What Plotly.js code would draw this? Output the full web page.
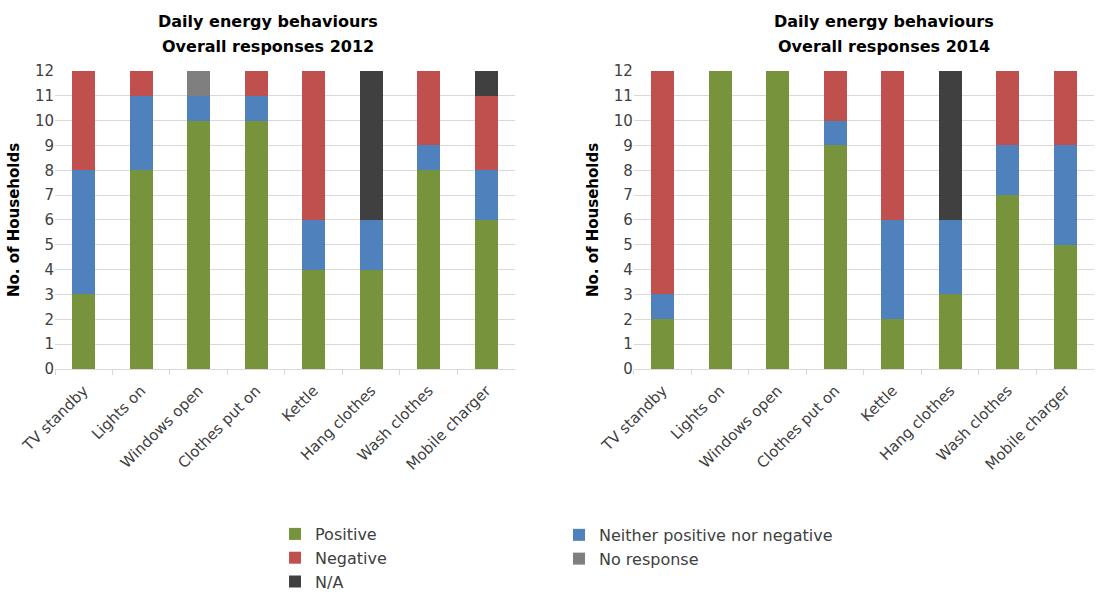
<!DOCTYPE html>
<html>
<head>
<meta charset="utf-8">
<script src="https://cdn.plot.ly/plotly-3.0.1.min.js"></script>
<style>html,body{margin:0;padding:0;background:#fff;}#chart{width:1118px;height:599px;}</style>
</head>
<body>
<div id="chart"></div>
<script>
// Household responses per daily energy behaviour
const categories = ['TV standby', 'Lights on', 'Windows open', 'Clothes put on', 'Kettle', 'Hang clothes', 'Wash clothes', 'Mobile charger'];

const positive2012 = [3, 8, 10, 10, 4, 4, 8, 6];
const neither2012  = [5, 3, 1, 1, 2, 2, 1, 2];
const negative2012 = [4, 1, 0, 1, 6, 0, 3, 3];
const noResp2012   = [0, 0, 1, 0, 0, 0, 0, 0];
const na2012       = [0, 0, 0, 0, 0, 6, 0, 1];

const positive2014 = [2, 12, 12, 9, 2, 3, 7, 5];
const neither2014  = [1, 0, 0, 1, 4, 3, 2, 4];
const negative2014 = [9, 0, 0, 2, 6, 0, 3, 3];
const noResp2014   = [0, 0, 0, 0, 0, 0, 0, 0];
const na2014       = [0, 0, 0, 0, 0, 6, 0, 0];

const yTicks = [0, 1, 2, 3, 4, 5, 6, 7, 8, 9, 10, 11, 12];

const titleLine1 = 'Daily energy behaviours';
const titleLine2 = ['Overall responses 2012', 'Overall responses 2014'];

const FONT = 'DejaVu Sans, sans-serif';

const seriesDefs = [
  {name: 'Positive', color: '#77933c', legend: 'legend', d12: positive2012, d14: positive2014},
  {name: 'Neither positive nor negative', color: '#4f81bd', legend: 'legend2', d12: neither2012, d14: neither2014},
  {name: 'Negative', color: '#c0504d', legend: 'legend', d12: negative2012, d14: negative2014},
  {name: 'No response', color: '#7f7f7f', legend: 'legend2', d12: noResp2012, d14: noResp2014},
  {name: 'N/A', color: '#404040', legend: 'legend', d12: na2012, d14: na2014}
];

const traces = [];
seriesDefs.forEach(s => {
  traces.push({
    type: 'bar', x: categories, y: s.d12, name: s.name,
    marker: {color: s.color, line: {width: 0}},
    xaxis: 'x', yaxis: 'y', legend: s.legend,
    hoverinfo: 'x+y+name'
  });
  traces.push({
    type: 'bar', x: categories, y: s.d14, name: s.name,
    marker: {color: s.color, line: {width: 0}},
    xaxis: 'x2', yaxis: 'y2', showlegend: false,
    hoverinfo: 'x+y+name'
  });
});

const tickFont = {family: FONT, size: 15, color: '#404040'};

function xAxis(domain, anchor) {
  return {
    domain: domain, anchor: anchor, type: 'category',
    tickangle: -45, tickfont: tickFont, ticklabelstandoff: 6,
    showline: true, linecolor: '#d9d9d9', linewidth: 1,
    ticks: 'outside', tickson: 'boundaries', ticklen: 5, tickcolor: '#d9d9d9',
    showgrid: false, zeroline: false, fixedrange: true
  };
}
function yAxis(anchor) {
  return {
    domain: [0.384, 0.8815], anchor: anchor,
    range: [0, 12], tickvals: yTicks, ticktext: yTicks.map(String),
    tickfont: tickFont, showgrid: true, gridcolor: '#d9d9d9', gridwidth: 1,
    zeroline: false, showline: false, ticks: '', fixedrange: true,
    title: {text: 'No. of Households', font: {family: FONT, size: 15, color: '#000', weight: 'bold'}, standoff: 11}
  };
}

const titleFont = {family: FONT, size: 16, color: '#000', weight: 'bold'};
const legendFont = {family: FONT, size: 16, color: '#404040'};

function legendBox(x, y) {
  return {
    x: x, y: y, xanchor: 'left', yanchor: 'bottom',
    orientation: 'v', traceorder: 'normal', font: legendFont, bgcolor: 'rgba(0,0,0,0)',
    itemwidth: 30, tracegroupgap: 0,
    itemclick: false, itemdoubleclick: false
  };
}

// Two-line subplot titles, one annotation per line
const titleCenters = [0.2395, 0.7905];
const annotations = [];
titleCenters.forEach((cx, i) => {
  annotations.push({text: titleLine1, xref: 'paper', yref: 'paper', x: cx, y: 1 - 22 / 599,
    xanchor: 'center', yanchor: 'middle', showarrow: false, font: titleFont});
  annotations.push({text: titleLine2[i], xref: 'paper', yref: 'paper', x: cx, y: 1 - 46 / 599,
    xanchor: 'center', yanchor: 'middle', showarrow: false, font: titleFont});
});

const layout = {
  width: 1118, height: 599,
  margin: {l: 0, r: 0, t: 0, b: 0},
  paper_bgcolor: '#fff', plot_bgcolor: '#fff',
  barmode: 'stack', bargap: 0.6,
  font: {family: FONT},
  xaxis: xAxis([0.0492, 0.4606], 'y'),
  yaxis: yAxis('x'),
  xaxis2: xAxis([0.567, 0.9785], 'y2'),
  yaxis2: yAxis('x2'),
  legend: legendBox(0.246, 0),
  legend2: legendBox(0.5, 0.0385),
  annotations: annotations
};

Plotly.newPlot('chart', traces, layout, {displayModeBar: false});
</script>
</body>
</html>
